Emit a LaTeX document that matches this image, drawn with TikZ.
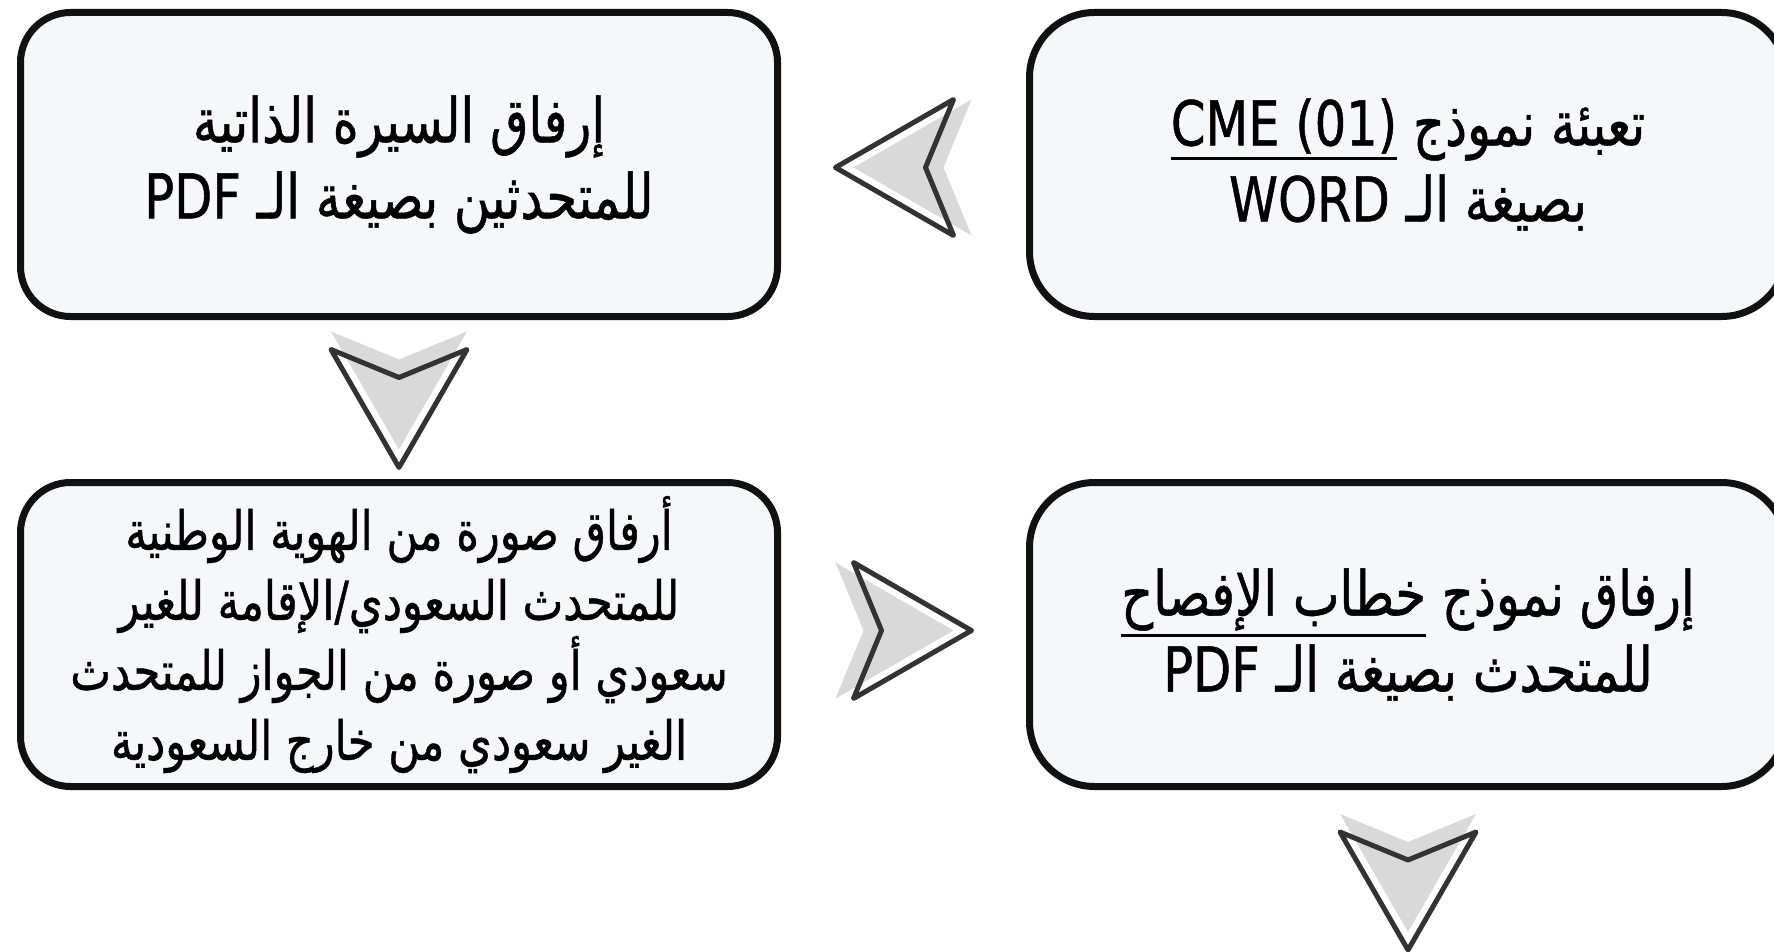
\documentclass[tikz,border=0pt]{standalone}
\usepackage{fontspec}
\TeXXeTstate=1
\newfontfamily\arabicfont[Script=Arabic,FakeStretch=0.8,FakeBold=0.8]{DejaVu Sans}
\definecolor{boxfill}{RGB}{246,247,249}
\definecolor{boxline}{RGB}{17,17,17}
\definecolor{arrowline}{RGB}{51,51,51}
\definecolor{shadegray}{RGB}{217,217,217}
\usetikzlibrary{calc}
\newcommand\thickul[1]{\vtop{\hbox{#1}\kern3pt\hrule height 3.5pt}}
\tikzset{
  box/.style={draw=boxline, line width=7pt, fill=boxfill, rounded corners=50pt,
    minimum width=757pt, minimum height=304pt, inner sep=0pt, align=center,
    font=\arabicfont\fontsize{62}{76}\selectfont},
  bigbox/.style={box, rounded corners=65pt},
  smalltext/.style={font=\arabicfont\fontsize{54}{70}\selectfont},
  chevron/.pic={
    \fill[shadegray] (50,0) -- (-68,-68) -- (-40,0) -- (-68,68) -- cycle;
    \draw[arrowline, line width=5pt, line join=round] (68,0) -- (-50,-68) -- (-22,0) -- (-50,68) -- cycle;
  }
}
\begin{document}
\begin{tikzpicture}[x=1pt,y=-1pt]
\useasboundingbox (0,0) rectangle (1774,952);
\fill[white] (0,0) rectangle (1774,952);
\clip (0,0) rectangle (1774,952);
\node[box] (tl) at (399,164.5) {\beginR إرفاق السيرة الذاتية\endR\\ \beginR للمتحدثين بصيغة الـ \beginL PDF\endL\endR};
\node[bigbox] (tr) at (1408,164.5) {\beginR تعبئة نموذج \beginL\thickul{CME (01)}\endL\endR\\ \beginR بصيغة الـ \beginL WORD\endL\endR};
\node[box, smalltext] (ml) at (399,634.5) {\beginR أرفاق صورة من الهوية الوطنية\endR\\ \beginR للمتحدث السعودي/الإقامة للغير\endR\\ \beginR سعودي أو صورة من الجواز للمتحدث\endR\\ \beginR الغير سعودي من خارج السعودية\endR};
\node[bigbox] (mr) at (1408,634.5) {\beginR إرفاق نموذج \thickul{\beginR خطاب الإفصاح\endR}\endR\\ \beginR للمتحدث بصيغة الـ \beginL PDF\endL\endR};
\pic[rotate=180] at ($(tl.east)!0.5!(tr.west)+(0,3)$) {chevron};
\pic[rotate=-90] at ($(tl.south)!0.5!(ml.north)$) {chevron};
\pic at ($(ml.east)!0.5!(mr.west)+(0,-4)$) {chevron};
\pic[rotate=-90] at ($(mr.south)+(0,92)$) {chevron};
\end{tikzpicture}
\end{document}
